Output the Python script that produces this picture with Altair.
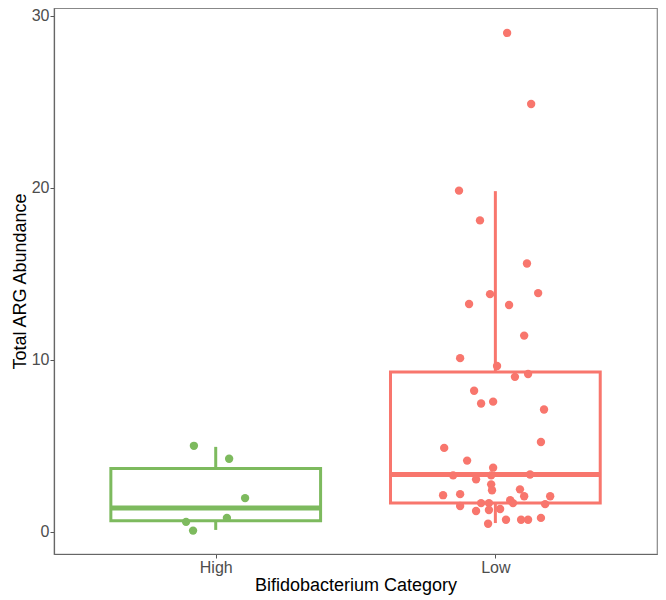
import altair as alt
import pandas as pd

# ---- data ----
categories = ["High", "Low"]
cat_pos = [1, 2]
colors = ["#7DBA5E", "#F8766D"]

high_values = [4.99, 4.24, 1.95, 0.57, 0.80, 0.06]
high_jitter = [-0.078, 0.048, 0.105, -0.106, 0.040, -0.081]

low_values = [29.0, 24.87, 19.83, 18.1, 15.59, 13.81, 13.87, 13.24, 13.18, 11.40,
              10.09, 9.63, 9.0, 9.17, 8.19, 7.45, 7.56, 7.1, 5.21, 4.87,
              4.13, 3.72, 3.27, 3.27, 3.32, 3.04, 2.75, 2.41, 2.12, 2.18,
              2.46, 2.06, 2.06, 1.49, 1.66, 1.66, 1.83, 1.66, 1.60, 1.20,
              1.26, 1.32, 0.69, 0.69, 0.69, 0.80, 0.46]
low_jitter = [0.042, 0.128, -0.130, -0.055, 0.113, -0.019, 0.153, -0.094, 0.049, 0.103,
              -0.126, 0.006, 0.070, 0.117, -0.076, -0.051, -0.008, 0.174, 0.163, -0.183,
              -0.101, -0.008, -0.151, -0.015, 0.124, -0.069, -0.015, -0.012, -0.187, -0.126,
              0.088, 0.103, 0.196, -0.126, -0.051, -0.023, 0.053, 0.063, 0.178, -0.069,
              -0.023, 0.017, 0.038, 0.092, 0.117, 0.163, -0.026]

# box statistics (whisker low, q1, median, q3, whisker high)
whisk_lo = [0.10, 0.50]
q1 = [0.63, 1.66]
median = [1.38, 3.32]
q3 = [3.67, 9.28]
whisk_hi = [4.93, 19.80]
box_half = 0.375

# ---- tables ----
pts = pd.DataFrame({
    "cat": ["High"] * len(high_values) + ["Low"] * len(low_values),
    "val": high_values + low_values,
    "xpos": [1 + j for j in high_jitter] + [2 + j for j in low_jitter],
})
box = pd.DataFrame({
    "cat": categories,
    "pos": cat_pos,
    "left": [p - box_half for p in cat_pos],
    "right": [p + box_half for p in cat_pos],
    "lo": whisk_lo, "q1": q1, "med": median, "q3": q3, "hi": whisk_hi,
})

xscale = alt.Scale(domain=[0.4217, 2.578], nice=False, zero=False)
yscale = alt.Scale(domain=[-1.3, 30.45], nice=False, zero=False)
cscale = alt.Scale(domain=categories, range=colors)

xaxis = alt.Axis(values=[1, 2], labelExpr="datum.value == 1 ? 'High' : 'Low'",
                 title="Bifidobacterium Category", grid=False)
yaxis = alt.Axis(values=[0, 10, 20, 30], title="Total ARG Abundance", grid=False)

base = alt.Chart(box)
col = alt.Color("cat:N", scale=cscale, legend=None)

rect = base.mark_rect(fill="white", strokeWidth=3).encode(
    x=alt.X("left:Q", scale=xscale, axis=xaxis),
    x2="right:Q",
    y=alt.Y("q1:Q", scale=yscale, axis=yaxis),
    y2="q3:Q",
    stroke=alt.Stroke("cat:N", scale=cscale, legend=None),
)
upper = base.mark_rule(strokeWidth=3).encode(
    x=alt.X("pos:Q", scale=xscale), y=alt.Y("q3:Q", scale=yscale), y2="hi:Q", color=col)
lower = base.mark_rule(strokeWidth=3).encode(
    x=alt.X("pos:Q", scale=xscale), y=alt.Y("lo:Q", scale=yscale), y2="q1:Q", color=col)
med = base.mark_rule(strokeWidth=5).encode(
    x=alt.X("left:Q", scale=xscale), x2="right:Q", y=alt.Y("med:Q", scale=yscale), color=col)

points = alt.Chart(pts).mark_circle(size=70, opacity=1).encode(
    x=alt.X("xpos:Q", scale=xscale),
    y=alt.Y("val:Q", scale=yscale),
    color=col,
)

chart = alt.layer(rect, upper, lower, med, points).properties(
    width=603, height=546,
    autosize="none",
    padding={"left": 46, "top": 0, "right": 1, "bottom": 44},
).configure_view(
    stroke="#888888", strokeWidth=1.2
).configure_axis(
    labelFont="Liberation Sans", titleFont="Liberation Sans",
    labelFontSize=16, titleFontSize=18, labelColor="#4D4D4D", titleColor="#000000",
    titleFontWeight="normal", tickColor="#555555", tickSize=4, domainColor="#666666",
    domainWidth=1.2, labelPadding=1,
).configure_axisX(titlePadding=1).configure_axisY(titlePadding=2)

chart.save("out.html", embed_options={"renderer": "svg", "actions": False})
